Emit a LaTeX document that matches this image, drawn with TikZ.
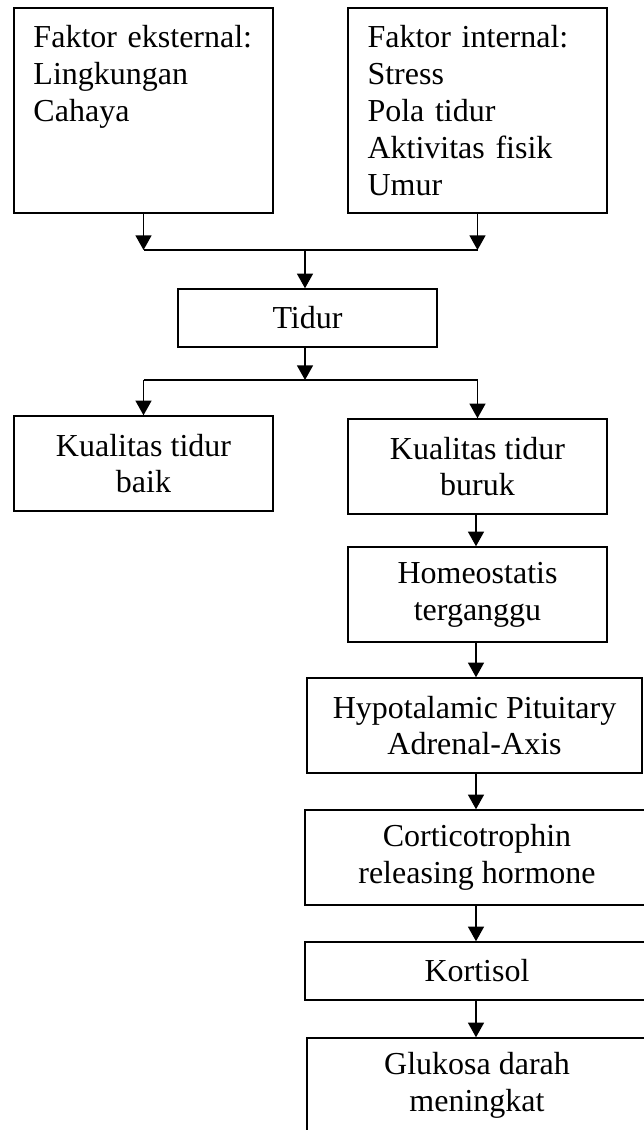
\documentclass[tikz,border=0pt]{standalone}
\usepackage{fontspec}
\setmainfont{Liberation Serif}
\usetikzlibrary{arrows.meta}

\begin{document}
\begin{tikzpicture}[x=0.75pt,y=-0.75pt,
  box/.style={draw, line width=1.1pt, inner sep=0pt, align=center,
    minimum width=194.25pt, minimum height=71.25pt,
    font=\fontsize{24}{27.6}\selectfont},
  listbox/.style={box, minimum height=153.75pt, text width=165pt, align=left},
  flow/.style={line width=1.1pt, -{Triangle[width=12pt,length=11pt]}},
  bar/.style={line width=1.1pt}]
\useasboundingbox (0,0) rectangle (643,1130);

% faktor
\node[listbox] (ext) at (143.5,110.5) {Faktor eksternal:\\Lingkungan\\Cahaya\\~\\~};
\node[listbox] (int) at (477.5,110.5) {Faktor internal:\\Stress\\Pola tidur\\Aktivitas fisik\\Umur};

\node[box, minimum height=43.5pt] (tidur) at (307.5,318) {Tidur};

\node[box] (baik) at (143.5,463.5) {Kualitas tidur\\baik};
\node[box] (buruk) at (477.5,466.5) {Kualitas tidur\\buruk};

% jalur buruk
\node[box] (homeo) at (477.5,594.5) {Homeostatis\\terganggu};
\node[box, minimum width=251.25pt] (hpa) at (474.5,725.5) {Hypotalamic Pituitary\\Adrenal-Axis};
\node[box, minimum width=258pt] (crh) at (477,857.5) {Corticotrophin\\releasing hormone};
\node[box, minimum width=258pt, minimum height=43.5pt] (kortisol) at (477,971) {Kortisol};
\node[box, minimum width=255pt] (glukosa) at (477,1085.5) {Glukosa darah\\meningkat};

\coordinate (join) at (305,250);
\coordinate (split) at (305,380);
\coordinate (spine) at (476,0);

\draw[flow] (ext.south) -- (ext.south |- join);
\draw[flow] (int.south) -- (int.south |- join);
\draw[bar] (ext.south |- join) -- (int.south |- join);
\draw[flow] (join) -- (join |- tidur.north);

\draw[flow] (tidur.south -| split) -- (split);
\draw[bar] (baik.north |- split) -- (buruk.north |- split);
\draw[flow] (baik.north |- split) -- (baik.north);
\draw[flow] (buruk.north |- split) -- (buruk.north);

\foreach \a/\b in {buruk/homeo, homeo/hpa, hpa/crh, crh/kortisol, kortisol/glukosa}
  \draw[flow] (\a.south -| spine) -- (\b.north -| spine);

\end{tikzpicture}
\end{document}
